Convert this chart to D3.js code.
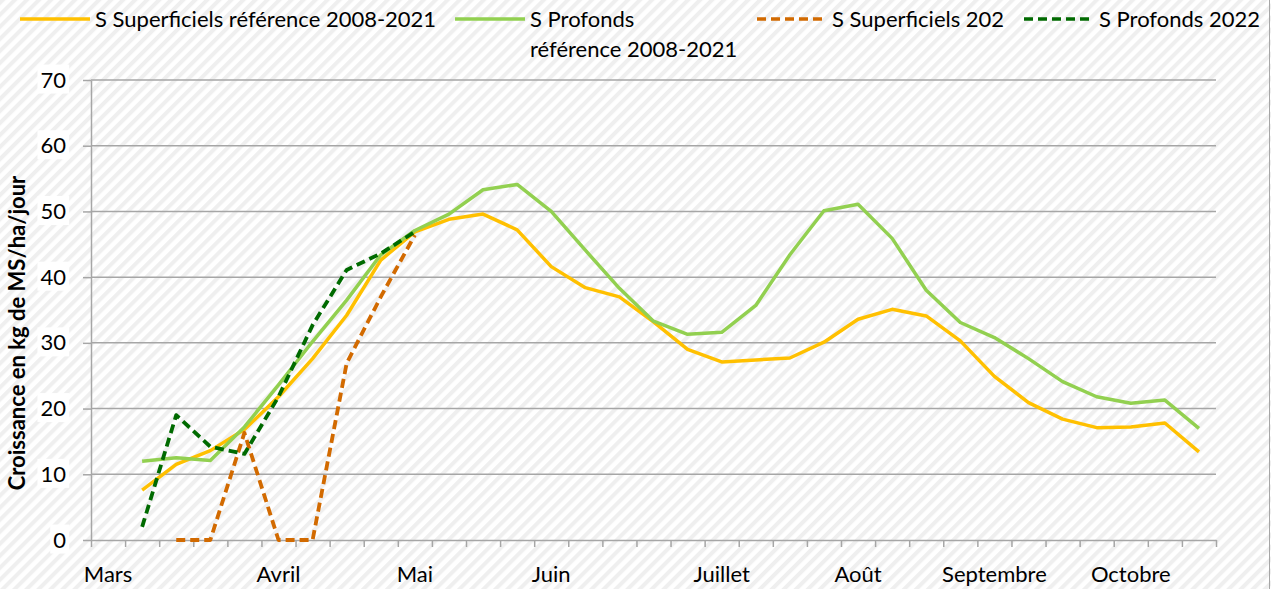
<!DOCTYPE html>
<html>
<head>
<meta charset="utf-8">
<script src="https://cdn.jsdelivr.net/npm/d3@7"></script>
<style>
  body { margin: 0; background: #fff; }
  text { font-family: Lato, "Noto Sans", sans-serif; fill: #000; }
</style>
</head>
<body>
<div id="chart"></div>
<script>
// week categories, month name on the first week of each month
let weeks = ["Mars", "", "", "", "", "Avril", "", "", "", "Mai", "", "", "", "Juin", "", "", "", "",
    "Juillet", "", "", "", "Août", "", "", "", "Septembre", "", "", "", "Octobre", "", ""];

let supRef = [null, 7.6, 11.5, 13.6, 16.8, 21.8, 27.6, 34.2, 42.6, 46.9, 48.8, 49.6, 47.2, 41.6, 38.4, 37.0,
    33.2, 29.0, 27.1, 27.4, 27.7, 30.1, 33.6, 35.1, 34.1, 30.3, 24.9, 20.9, 18.4, 17.1, 17.2, 17.8, 13.4];
let profRef = [null, 12.0, 12.5, 12.1, 17.2, 23.6, 30.2, 36.5, 43.4, 47.1, 49.6, 53.3, 54.1, 50.0, 44.1, 38.3,
    33.3, 31.3, 31.6, 35.7, 43.4, 50.1, 51.1, 45.9, 38.0, 33.1, 30.8, 27.6, 24.1, 21.8, 20.8, 21.3, 17.0];
let sup2022 = [null, null, 0, 0, 16.3, 0, 0, 26.9, 37.0, 46.4];
let prof2022 = [null, 2.0, 19.0, 14.2, 13.1, 21.8, 32.7, 41.1, 43.6, 46.9];

let yTicks = [0, 10, 20, 30, 40, 50, 60, 70];

let series = [
    { name: "S Superficiels référence 2008-2021", values: supRef, color: "#FFC000", dash: null },
    { name: "S Profonds|référence 2008-2021", values: profRef, color: "#92D050", dash: null },
    { name: "S Superficiels 202", values: sup2022, color: "#D26A00", dash: "9,5" },
    { name: "S Profonds 2022", values: prof2022, color: "#006A00", dash: "9,5" }
];

let W = 1271, H = 589;
let margin = { top: 80, right: 55, bottom: 49, left: 91 },
    width = W - margin.left - margin.right,
    height = H - margin.top - margin.bottom;

let svg = d3.select("#chart").append("svg")
    .attr("width", W)
    .attr("height", H);

// hatched background
let pat = svg.append("defs").append("pattern")
    .attr("id", "hatch")
    .attr("patternUnits", "userSpaceOnUse")
    .attr("width", 8.5)
    .attr("height", 8.5)
    .attr("patternTransform", "rotate(45)");
pat.append("rect").attr("width", 8.5).attr("height", 8.5).attr("fill", "#fff");
pat.append("rect").attr("width", 4).attr("height", 8.5).attr("fill", "#efefef");

svg.append("rect").attr("width", W).attr("height", H).attr("fill", "url(#hatch)");
svg.append("line")
    .attr("x1", W - 1.5).attr("x2", W - 1.5)
    .attr("y1", 0).attr("y2", H)
    .attr("stroke", "#a6a6a6");

let g = svg.append("g")
    .attr("transform", "translate(" + margin.left + "," + margin.top + ")");

let x = d3.scaleBand()
    .domain(d3.range(weeks.length))
    .range([0, width])
    .padding(0);
let xb = d3.scaleLinear()
    .domain([0, weeks.length])
    .range([0, width]);
let y = d3.scaleLinear()
    .domain([0, 70])
    .range([height, 0]);

// gridlines
g.append("g")
    .selectAll("line")
    .data(yTicks.slice(1))
    .enter()
    .append("line")
    .attr("x1", 0).attr("x2", width)
    .attr("y1", d => y(d)).attr("y2", d => y(d))
    .attr("stroke", "#a6a6a6")
    .attr("stroke-width", 1.5);

// y axis
let yAxis = g.append("g")
    .call(d3.axisLeft(y).tickValues(yTicks).tickSize(8).tickPadding(17).tickSizeOuter(0));
yAxis.selectAll("line, path").attr("stroke", "#a6a6a6").attr("stroke-width", 1.5);
yAxis.selectAll("text")
    .style("font-size", "22px")
    .style("font-family", "Lato");
yAxis.selectAll(".tick").each(function() {
    let t = d3.select(this).select("text");
    let b = t.node().getBBox();
    d3.select(this).insert("rect", "text")
        .attr("x", b.x - 3).attr("y", b.y - 1)
        .attr("width", b.width + 6).attr("height", b.height + 2)
        .attr("fill", "#fff");
});

// x axis: ticks between weeks, month labels centred on the week
let xTicks = g.append("g")
    .attr("transform", "translate(0," + height + ")")
    .call(d3.axisBottom(xb).tickValues(d3.range(weeks.length + 1)).tickFormat("").tickSize(7).tickSizeOuter(0));
xTicks.selectAll("line, path").attr("stroke", "#a6a6a6").attr("stroke-width", 1.5);

let xLabels = g.append("g")
    .attr("transform", "translate(0," + height + ")")
    .call(d3.axisBottom(x).tickFormat(i => weeks[i]).tickSize(0).tickPadding(26));
xLabels.select(".domain").remove();
xLabels.selectAll("text")
    .style("font-size", "22px")
    .style("font-family", "Lato");

// y title
g.append("text")
    .attr("transform", "rotate(-90)")
    .attr("x", -253)
    .attr("y", 25 - margin.left)
    .style("text-anchor", "middle")
    .style("font-size", "22px")
    .style("font-weight", "bold")
    .text("Croissance en kg de MS/ha/jour");

// lines
let line = d3.line()
    .defined(d => d != null)
    .x((d, i) => x(i) + x.bandwidth() / 2)
    .y(d => y(d));

series.forEach(function(s) {
    g.append("path")
        .datum(s.values)
        .attr("fill", "none")
        .attr("stroke", s.color)
        .attr("stroke-width", s.dash ? 3.8 : 3.5)
        .attr("stroke-dasharray", s.dash)
        .attr("stroke-linejoin", "round")
        .attr("d", line);
});

// legend
let legendX = [20, 455, 757, 1024];
let legend = svg.append("g");
series.forEach(function(s, i) {
    let lg = legend.append("g").attr("transform", "translate(" + legendX[i] + ",19)");
    lg.append("line")
        .attr("x1", 0).attr("x2", 70)
        .attr("stroke", s.color)
        .attr("stroke-width", 3.5)
        .attr("stroke-dasharray", s.dash ? "9,5" : null);
    let parts = s.name.split("|");
    parts.forEach(function(p, k) {
        lg.append("text")
            .attr("x", 75)
            .attr("y", 8 + k * 29.5)
            .style("font-size", "22px")
            .text(p);
    });
});
</script>
</body>
</html>
